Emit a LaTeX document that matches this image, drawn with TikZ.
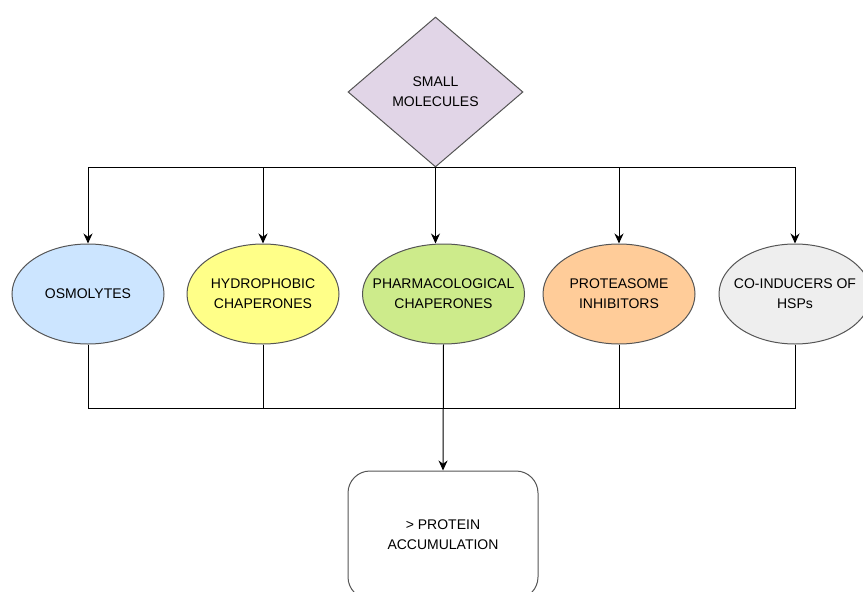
\documentclass[tikz,border=0pt]{standalone}
\usepackage{fontspec}
\setmainfont{Liberation Sans}
\usetikzlibrary{shapes.geometric,arrows.meta}
\definecolor{lilac}{HTML}{E1D5E7}
\definecolor{skyfill}{HTML}{CCE5FF}
\definecolor{lemon}{HTML}{FFFF88}
\definecolor{lime}{HTML}{CDEB8B}
\definecolor{peach}{HTML}{FFCC99}
\definecolor{greyfill}{HTML}{EEEEEE}
\definecolor{rim}{HTML}{555555}
\begin{document}
\begin{tikzpicture}[x=1pt, y=-1pt, line width=1pt,
  every node/.style={font=\fontsize{14}{20}\selectfont, align=center, text=black},
  agent/.style={ellipse, draw=rim, minimum width=152pt, minimum height=100pt, inner xsep=-20pt, inner ysep=0pt},
  link/.style={-{Stealth[length=10pt,width=9pt]}, black}]
  \useasboundingbox (0,0) rectangle (863,592);
  % top: the one class, bottom: the one outcome
  \node[diamond, draw=rim, fill=lilac, minimum width=175pt, minimum height=150pt, inner sep=0pt] (mol) at (435.5,92) {SMALL\\MOLECULES};
  \begin{scope}
    \clip (0,0) rectangle (863,592);
    \node[agent, fill=skyfill]  (osm)   at (88,294)  {OSMOLYTES};
    \node[agent, fill=lemon]    (hyd)   at (263,294) {HYDROPHOBIC\\CHAPERONES};
    \node[agent, fill=lime, minimum width=162pt] (pharm) at (443.5,294) {PHARMACOLOGICAL\\CHAPERONES};
    \node[agent, fill=peach]    (prot)  at (619,294) {PROTEASOME\\INHIBITORS};
    \node[agent, fill=greyfill] (coind) at (795,294) {CO-INDUCERS OF\\HSPs};
    \node[draw=rim, rounded corners=22pt, minimum width=190pt, minimum height=128pt] (acc) at (443,535) {> PROTEIN\\ACCUMULATION};
  \end{scope}
  % branches out of the diamond
  \draw[link] (mol.south) -| (osm.north);
  \draw[link] (mol.south) -| (hyd.north);
  \draw[link] (mol.south) -- (mol.south |- pharm.north);
  \draw[link] (mol.south) -| (prot.north);
  \draw[link] (mol.south) -| (coind.north);
  % gathering line below the ellipses
  \coordinate (bus) at (443,408);
  \foreach \k in {osm,hyd,prot,coind} \draw (\k.south) |- (bus);
  \draw[link] (pharm.south) -- (acc.north);
\end{tikzpicture}
\end{document}
